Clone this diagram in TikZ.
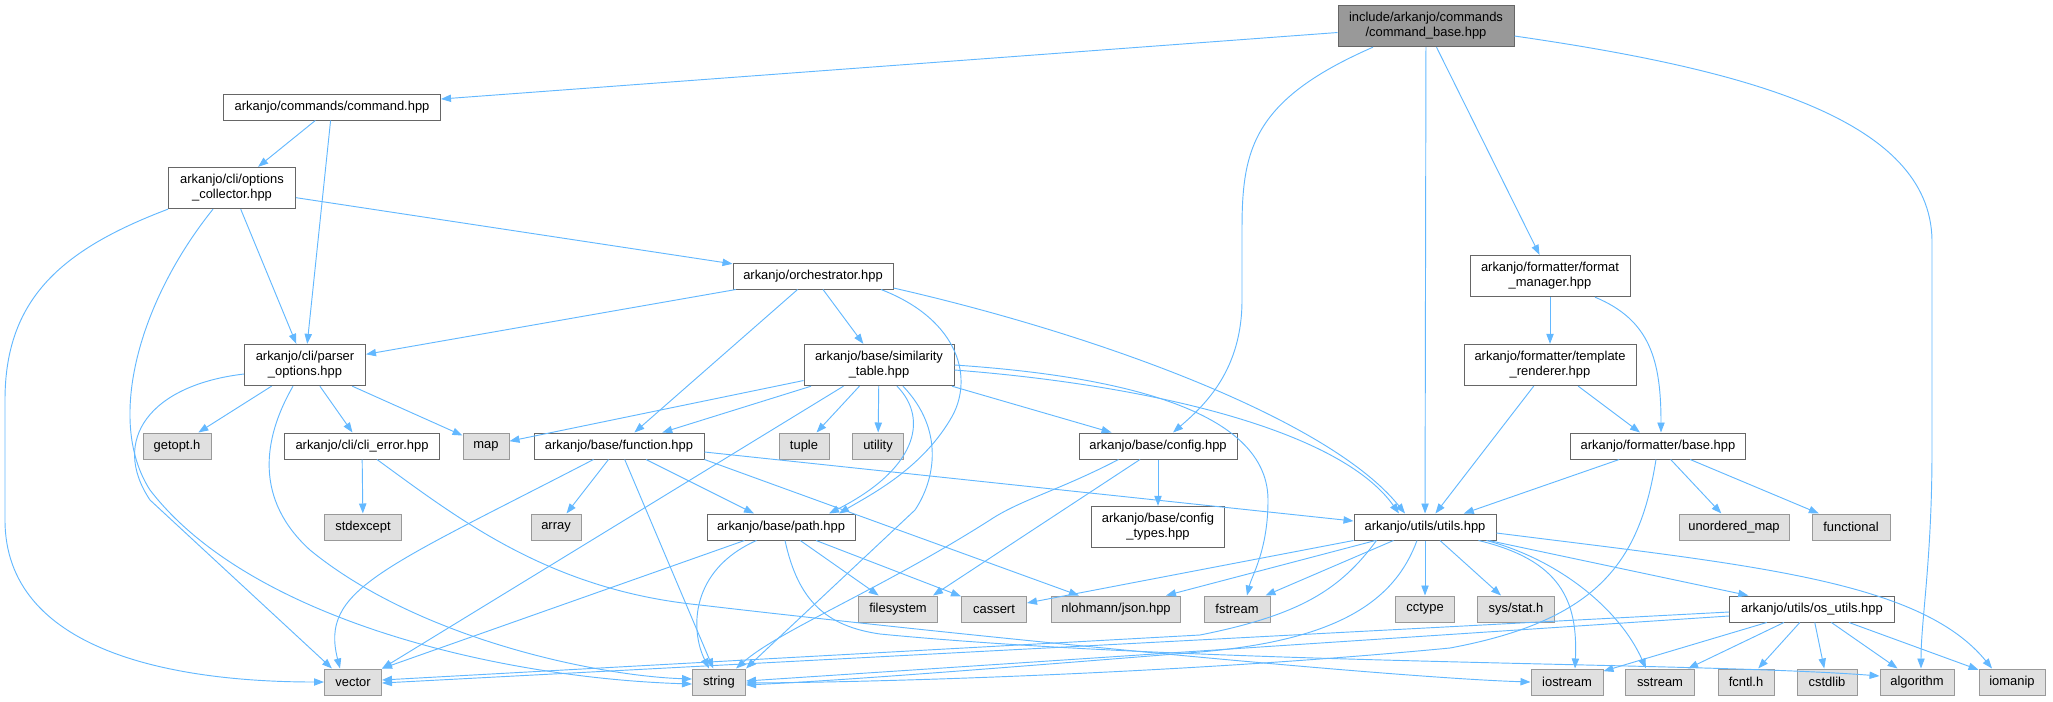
\documentclass[tikz,border=0pt]{standalone}
\usepackage{fontspec}
\setmainfont{Liberation Sans}
\usetikzlibrary{arrows.meta, calc}
\definecolor{edgeblue}{HTML}{63B8FF}
\definecolor{boxline}{HTML}{666666}
\definecolor{sysline}{HTML}{999999}
\definecolor{sysfill}{HTML}{E0E0E0}
\definecolor{rootfill}{HTML}{999999}
\begin{document}
\begin{tikzpicture}[x=0.75pt, y=-0.75pt,
    hdr/.style={draw=boxline, fill=white, line width=0.75pt, inner sep=0pt, align=center, font=\fontsize{9.7}{11.3}\selectfont, minimum height=19.5pt, minimum width=#1*0.75pt},
    sys/.style={hdr=#1, draw=sysline, fill=sysfill},
    tall/.style={minimum height=31pt},
    dep/.style={draw=edgeblue, line width=0.7pt, -{Triangle[length=7.5pt, width=5.5pt]}}]
\useasboundingbox (0,0) rectangle (2053,701);
\node[hdr=176, tall, fill=rootfill] (root) at (1426,26) {include/arkanjo/commands\\/command\_base.hpp};
\node[hdr=217] (cmd) at (332,107) {arkanjo/commands/command.hpp};
\node[hdr=127, tall] (coll) at (232,188) {arkanjo/cli/options\\\_collector.hpp};
\node[hdr=160] (orch) at (813,276) {arkanjo/orchestrator.hpp};
\node[hdr=160, tall] (fmgr) at (1550,276) {arkanjo/formatter/format\\\_manager.hpp};
\node[hdr=121, tall] (parser) at (305,365) {arkanjo/cli/parser\\\_options.hpp};
\node[hdr=150, tall] (simt) at (879,365) {arkanjo/base/similarity\\\_table.hpp};
\node[hdr=172, tall] (trend) at (1550,365) {arkanjo/formatter/template\\\_renderer.hpp};
\node[sys=68] (getopt) at (177,446) {getopt.h};
\node[hdr=155] (clierr) at (362,446) {arkanjo/cli/cli\_error.hpp};
\node[sys=46] (map) at (486,446) {map};
\node[hdr=170] (func) at (619,446) {arkanjo/base/function.hpp};
\node[sys=50] (tuple) at (804,446) {tuple};
\node[sys=51] (utility) at (878,446) {utility};
\node[hdr=158] (config) at (1158,446) {arkanjo/base/config.hpp};
\node[hdr=175] (fbase) at (1658,446) {arkanjo/formatter/base.hpp};
\node[sys=77] (stdexcept) at (363,527) {stdexcept};
\node[sys=50] (array) at (556,527) {array};
\node[hdr=148] (path) at (781,527) {arkanjo/base/path.hpp};
\node[hdr=133, tall] (ctypes) at (1158,527) {arkanjo/base/config\\\_types.hpp};
\node[hdr=142] (utils) at (1425,527) {arkanjo/utils/utils.hpp};
\node[sys=110] (umap) at (1734,527) {unordered\_map};
\node[sys=78] (functional) at (1851,527) {functional};
\node[sys=79] (filesystem) at (898,609) {filesystem};
\node[sys=65] (cassert) at (994,609) {cassert};
\node[sys=129] (json) at (1116,609) {nlohmann/json.hpp};
\node[sys=66] (fstream) at (1237,609) {fstream};
\node[sys=59] (cctype) at (1425,609) {cctype};
\node[sys=77] (sysstat) at (1516,609) {sys/stat.h};
\node[hdr=165] (osutils) at (1812,609) {arkanjo/utils/os\_utils.hpp};
\node[sys=57] (vector) at (353,682) {vector};
\node[sys=53] (string) at (719,682) {string};
\node[sys=72] (iostream) at (1567,682) {iostream};
\node[sys=69] (sstream) at (1660,682) {sstream};
\node[sys=56] (fcntl) at (1746,682) {fcntl.h};
\node[sys=60] (cstdlib) at (1827,682) {cstdlib};
\node[sys=74] (algorithm) at (1917,682) {algorithm};
\node[sys=66] (iomanip) at (2012,682) {iomanip};
\draw[dep] (root) -- (cmd);
\draw[dep] (root) -- (fmgr);
\draw[dep] (root) -- (utils);
\draw[dep] ($(root.south)+(-53,0)$) .. controls (1252,100) and (1242,150) .. (1242,230) -- (1242,300) .. controls (1242,370) and (1205,405) .. ($(config.north)+(15,0)$);
\draw[dep] ($(root.east)+(0,10)$) .. controls (1750,70) and (1930,120) .. (1932,240) -- (1932,450) .. controls (1932,560) and (1921,620) .. ($(algorithm.north)+(4,0)$);
\draw[dep] (cmd) -- (coll);
\draw[dep] (cmd) -- (parser);
\draw[dep] (coll) -- (parser);
\draw[dep] (coll) -- (orch);
\draw[dep] (coll.south west) .. controls (60,250) and (5,300) .. (5,400) -- (5,520) .. controls (5,650) and (170,682) .. (vector.west);
\draw[dep] ($(coll.south)+(-19,0)$) .. controls (140,300) and (105,420) .. (150,490) .. controls (250,620) and (500,678) .. ($(string.west)+(0,2)$);
\draw[dep] (orch) -- (parser);
\draw[dep] (orch) -- (func);
\draw[dep] (orch) -- (simt);
\draw[dep] ($(orch.south)+(68,0)$) .. controls (960,320) and (975,380) .. (950,420) .. controls (920,470) and (870,495) .. ($(path.north)+(58,0)$);
\draw[dep] ($(orch.east)+(0,12)$) .. controls (1100,335) and (1330,420) .. ($(utils.north)+(-20,0)$);
\draw[dep] ($(parser.west)+(0,9)$) .. controls (150,385) and (110,440) .. (150,500) -- ($(vector.north west)+(8,0)$);
\draw[dep] (parser) -- (getopt);
\draw[dep] (parser) -- (clierr);
\draw[dep] (parser) -- (map);
\draw[dep] ($(parser.south)+(-12,0)$) .. controls (262,440) and (255,500) .. (310,550) .. controls (420,640) and (600,676) .. ($(string.west)+(0,-3)$);
\draw[dep] (clierr) -- (stdexcept);
\draw[dep] ($(clierr.south)+(15,0)$) .. controls (460,520) and (550,590) .. (700,605) .. controls (1000,640) and (1400,678) .. (iostream.west);
\draw[dep] (simt) -- (map);
\draw[dep] (simt) -- (func);
\draw[dep] ($(simt.south west)+(40,0)$) -- (vector.north east);
\draw[dep] (simt) -- (tuple);
\draw[dep] (simt) -- (utility);
\draw[dep] ($(simt.south)+(18,0)$) .. controls (930,420) and (915,470) .. ($(path.north)+(48,0)$);
\draw[dep] ($(simt.south)+(24,0)$) .. controls (945,430) and (935,480) .. (915,510) -- (string.north east);
\draw[dep] (simt) -- (config);
\draw[dep] (simt.east) .. controls (1150,378) and (1268,420) .. (1268,500) .. controls (1268,550) and (1252,575) .. ($(fstream.north)+(10,0)$);
\draw[dep] ($(simt.east)+(0,5)$) .. controls (1150,385) and (1340,430) .. ($(utils.north)+(-26,0)$);
\draw[dep] ($(func.south west)+(60,0)$) .. controls (380,570) and (320,590) .. ($(vector.north)+(-13,0)$);
\draw[dep] (func) -- (array);
\draw[dep] (func) -- (string);
\draw[dep] (func) -- (path);
\draw[dep] (func.south east) -- (json);
\draw[dep] ($(func.east)+(0,6)$) -- ($(utils.west)+(0,-6)$);
\draw[dep] ($(path.south west)+(38,0)$) -- (vector.north east);
\draw[dep] ($(path.south west)+(50,0)$) .. controls (690,570) and (690,630) .. ($(string.north)+(-10,0)$);
\draw[dep] (path) -- (filesystem);
\draw[dep] (path) -- (cassert);
\draw[dep] ($(path.south)+(4,0)$) .. controls (798,600) and (825,626) .. (880,634) .. controls (1200,665) and (1700,662) .. ($(algorithm.west)+(0,-6)$);
\draw[dep] (config) -- (ctypes);
\draw[dep] ($(config.south)+(-18,0)$) -- ($(filesystem.north east)+(-5,0)$);
\draw[dep] ($(config.south west)+(40,0)$) .. controls (1060,490) and (1020,500) .. (990,520) .. controls (880,590) and (780,630) .. ($(string.north east)+(-10,0)$);
\draw[dep] (utils.south west) -- ($(cassert.east)+(0,-6)$);
\draw[dep] ($(utils.south west)+(22,0)$) -- ($(json.north east)+(-15,0)$);
\draw[dep] ($(utils.south west)+(40,0)$) -- ($(fstream.north east)+(-5,0)$);
\draw[dep] (utils) -- (cctype);
\draw[dep] (utils) -- (sysstat);
\draw[dep] (utils) -- (osutils);
\draw[dep] ($(utils.south east)+(-18,0)$) .. controls (1560,560) and (1578,600) .. ($(iostream.north)+(8,0)$);
\draw[dep] ($(utils.south east)+(-10,0)$) .. controls (1560,560) and (1620,610) .. ($(sstream.north)+(-14,0)$);
\draw[dep] ($(utils.east)+(0,6)$) .. controls (1750,565) and (1920,580) .. ($(iomanip.north)+(-20,0)$);
\draw[dep] ($(utils.south)+(-8,0)$) .. controls (1395,600) and (1340,640) .. (1200,652) .. controls (1000,668) and (850,680) .. ($(string.east)+(0,3)$);
\draw[dep] ($(utils.south west)+(23,0)$) .. controls (1340,590) and (1300,615) .. (1200,635) -- ($(vector.east)+(0,-2)$);
\draw[dep] ($(osutils.west)+(0,3)$) -- ($(vector.east)+(0,1)$);
\draw[dep] ($(osutils.west)+(0,7)$) -- ($(string.east)+(0,-1)$);
\draw[dep] (osutils) -- (iostream);
\draw[dep] (osutils) -- (sstream);
\draw[dep] (osutils) -- (fcntl);
\draw[dep] (osutils) -- (cstdlib);
\draw[dep] (osutils) -- (algorithm);
\draw[dep] (osutils) -- (iomanip);
\draw[dep] (fbase) -- (utils);
\draw[dep] (fbase) -- (umap);
\draw[dep] (fbase) -- (functional);
\draw[dep] ($(fbase.south)+(-2,0)$) .. controls (1640,560) and (1600,620) .. (1450,648) .. controls (1200,672) and (900,682) .. ($(string.east)+(0,1)$);
\draw[dep] (fmgr) -- (trend);
\draw[dep] ($(fmgr.south)+(45,0)$) .. controls (1650,320) and (1661,360) .. ($(fbase.north)+(3,0)$);
\draw[dep] (trend) -- (utils);
\draw[dep] (trend) -- (fbase);
\end{tikzpicture}
\end{document}
